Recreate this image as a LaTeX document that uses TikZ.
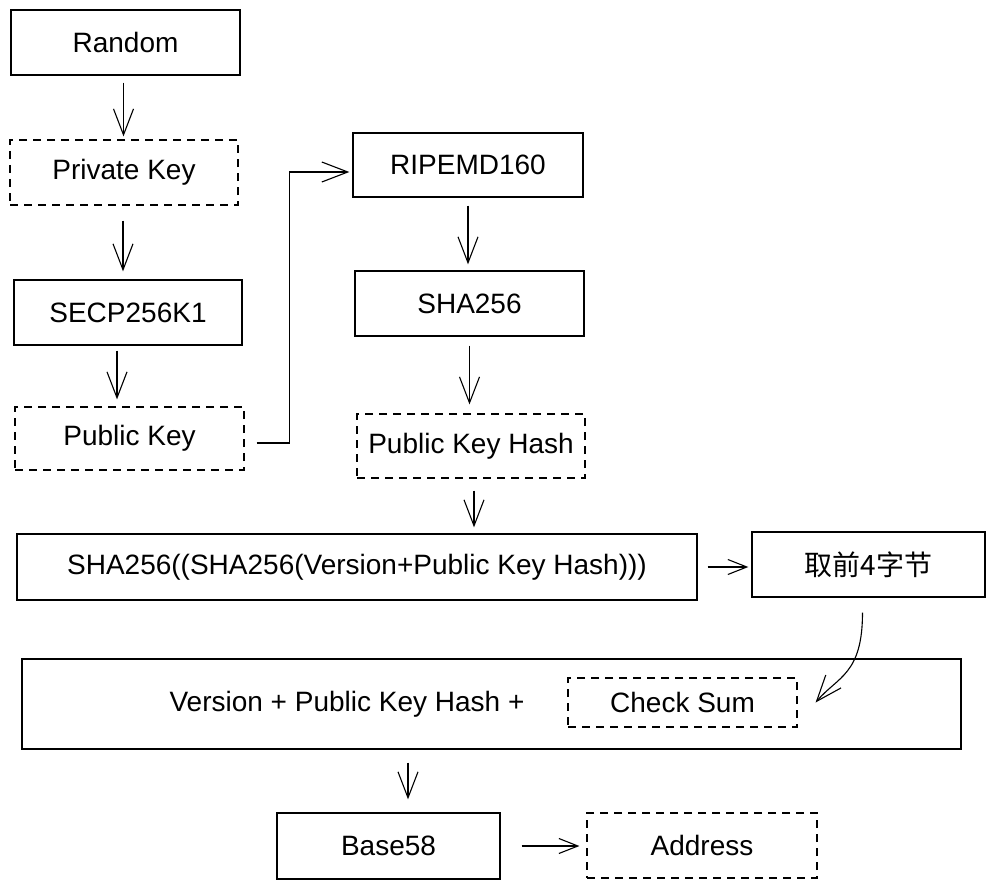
\documentclass[tikz,border=0pt]{standalone}
\usepackage{fontspec}
\setmainfont{Liberation Sans}
\newfontfamily\cjk{Noto Sans CJK SC}
\usetikzlibrary{arrows.meta}
\begin{document}
\begin{tikzpicture}[x=1pt,y=-1pt,
  every node/.style={font=\fontsize{28}{32}\selectfont, inner sep=0pt},
  solidbox/.style={draw, line width=1.3pt},
  dashbox/.style={draw, line width=1.2pt, dash pattern=on 8pt off 6pt},
  arr/.style={draw, line width=1.1pt, -{Straight Barb[length=26pt,width=20pt,line width=1.1pt]}},
  sarr/.style={draw, line width=1.1pt, -{Straight Barb[length=19pt,width=15pt,line width=1.1pt]}}]
\useasboundingbox[fill=white] (0,0) rectangle (988,888);

\node[solidbox, minimum width=229pt, minimum height=65pt] (random) at (125.5,42.5) {Random};
\node[dashbox, minimum width=228pt, minimum height=65pt] (private) at (124,172.5) {Private Key};
\node[solidbox, minimum width=228pt, minimum height=65pt] (secp) at (128,312.5) {SECP256K1};
\node[dashbox, minimum width=229pt, minimum height=63pt] (pub) at (129.5,438.5) {Public Key};

\node[solidbox, minimum width=230pt, minimum height=64pt] (ripemd) at (468,165) {RIPEMD160};
\node[solidbox, minimum width=229pt, minimum height=65pt] (sha) at (469.5,303.5) {SHA256};
\node[dashbox, minimum width=228pt, minimum height=64pt] (pkh) at (471,446) {Public Key Hash};

\node[solidbox, minimum width=680pt, minimum height=66pt] (dsha) at (357,567) {SHA256((SHA256(Version+Public Key Hash)))};
\node[solidbox, minimum width=233pt, minimum height=65pt] (take) at (868.5,564.5) {\cjk 取前4字节};

\node[solidbox, minimum width=939pt, minimum height=90pt] (big) at (491.5,704) {};
\node (vtext) at (347,704) {Version + Public Key Hash +};
\node[dashbox, minimum width=229pt, minimum height=49pt] (check) at (682.5,702.5) {Check Sum};

\node[solidbox, minimum width=223pt, minimum height=66pt] (base) at (388.5,846) {Base58};
\node[dashbox, minimum width=230pt, minimum height=65pt] (addr) at (702,845.5) {Address};

\draw[arr, shorten <=7pt, shorten >=3pt] ([xshift=-2pt]random.south) -- ([xshift=-2pt]random.south |- private.north);
\draw[arr, shorten <=15pt, shorten >=8pt] ([xshift=-1pt]private.south) -- ([xshift=-1pt]private.south |- secp.north);
\draw[arr, shorten <=5pt, shorten >=7pt] ([xshift=-11pt]secp.south) -- ([xshift=-11pt]secp.south |- pub.north);
\draw[arr, shorten >=3pt] ([shift={(12pt,-4.5pt)}]pub.east) -- ++(33,0) |- ([yshift=-7pt]ripemd.west);
\draw[arr, shorten <=8pt, shorten >=6pt] (ripemd.south) -- (ripemd.south |- sha.north);
\draw[arr, shorten <=9pt, shorten >=9pt] (sha.south) -- (sha.south |- pkh.north);
\draw[arr, shorten <=12pt, shorten >=6pt] ([xshift=3pt]pkh.south) -- ([xshift=3pt]pkh.south |- dsha.north);
\draw[sarr, shorten <=10pt, shorten >=3pt] (dsha.east) -- (dsha.east -| take.west);
\draw[arr] ([shift={(-6pt,-15pt)}]take.south) .. controls +(0,62) and +(22,-26) .. ([xshift=18pt]check.east);
\draw[arr, shorten <=13pt, shorten >=13pt] ([xshift=19.5pt]base.north |- big.south) -- ([xshift=19.5pt]base.north);
\draw[sarr, shorten <=21pt, shorten >=7pt] (base.east) -- (base.east -| addr.west);
\end{tikzpicture}
\end{document}
